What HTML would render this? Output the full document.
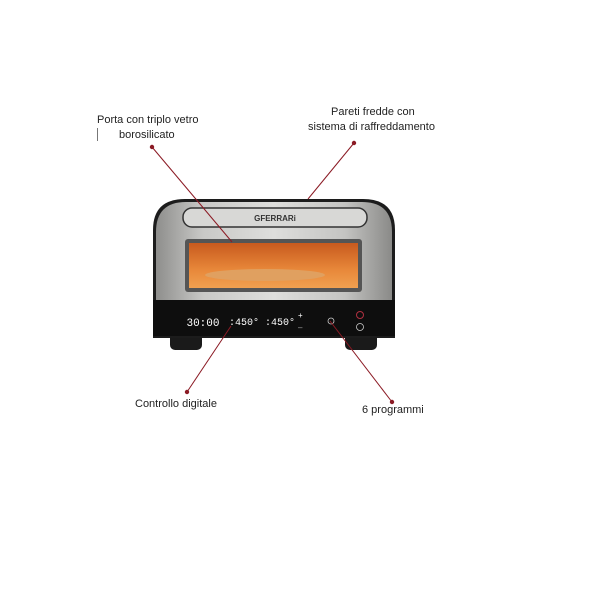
<!DOCTYPE html>
<html><head><style>
body{margin:0;background:#fff;width:600px;height:600px;overflow:hidden;position:relative;font-family:"Liberation Sans",sans-serif;}
.t{position:absolute;font-size:11px;color:#222;white-space:nowrap;}
</style></head><body>
<svg width="600" height="600" style="position:absolute;left:0;top:0">
<defs>
<linearGradient id="s" x1="0" y1="0" x2="1" y2="0">
<stop offset="0" stop-color="#8e8e8c"/><stop offset="0.2" stop-color="#c9c9c7"/><stop offset="0.5" stop-color="#dededc"/><stop offset="0.8" stop-color="#c4c4c2"/><stop offset="1" stop-color="#8a8a88"/></linearGradient>
<linearGradient id="w" x1="0" y1="0" x2="0" y2="1">
<stop offset="0" stop-color="#c85a1e"/><stop offset="0.6" stop-color="#e8883a"/><stop offset="1" stop-color="#f0a050"/></linearGradient>
</defs>
<rect x="170" y="330" width="32" height="20" rx="5" fill="#1a1a1a"/>
<rect x="345" y="330" width="32" height="20" rx="5" fill="#1a1a1a"/>
<path d="M153 230 Q153 199 185 199 L363 199 Q395 199 395 230 L395 338 L153 338 Z" fill="#1c1c1c"/>
<path d="M156 232 Q156 202 186 202 L362 202 Q392 202 392 232 L392 300 L156 300 Z" fill="url(#s)"/>
<rect x="183" y="208" width="184" height="19" rx="9" fill="#d8d8d6" stroke="#333" stroke-width="1.5"/>
<text x="275" y="221" font-family="Liberation Sans" font-size="8" font-weight="bold" fill="#333" text-anchor="middle">GFERRARi</text>
<rect x="185" y="239" width="177" height="53" rx="3" fill="#555"/>
<rect x="189" y="243" width="169" height="45" fill="url(#w)"/>
<ellipse cx="265" cy="275" rx="60" ry="6" fill="#e0a060"/>
<rect x="153" y="300" width="242" height="36" fill="#0e0e0e"/>
<text x="203" y="326" font-family="Liberation Mono" font-size="11" fill="#fff" text-anchor="middle">30:00</text>
<text x="262" y="325" font-family="Liberation Mono" font-size="10" fill="#fff" text-anchor="middle">:450° :450°</text>
<text x="298" y="318" font-size="8" fill="#fff">+</text>
<text x="298" y="330" font-size="8" fill="#aaa">–</text>
<circle cx="331" cy="321" r="3" fill="none" stroke="#ccc" stroke-width="0.8"/>
<circle cx="360" cy="315" r="3.5" fill="none" stroke="#b03040" stroke-width="1"/>
<circle cx="360" cy="327" r="3.5" fill="none" stroke="#ccc" stroke-width="0.8"/>
<g stroke="#8b1a24" stroke-width="1">
<line x1="152" y1="147" x2="232" y2="242"/>
<line x1="354" y1="143" x2="308" y2="199"/>
<line x1="187" y1="392" x2="231" y2="326"/>
<line x1="392" y1="402" x2="330" y2="321"/>
</g>
<g fill="#8b1a24">
<circle cx="152" cy="147" r="2.2"/><circle cx="354" cy="143" r="2.2"/>
<circle cx="187" cy="392" r="2.2"/><circle cx="392" cy="402" r="2.2"/>
</g>
<line x1="97.5" y1="128" x2="97.5" y2="141" stroke="#555" stroke-width="0.8"/>
</svg>
<div class="t" style="left:97px;top:114px">Porta con triplo vetro</div>
<div class="t" style="left:119px;top:129px">borosilicato</div>
<div class="t" style="left:331px;top:106px">Pareti fredde con</div>
<div class="t" style="left:308px;top:121px">sistema di raffreddamento</div>
<div class="t" style="left:135px;top:398px">Controllo digitale</div>
<div class="t" style="left:362px;top:404px">6 programmi</div>
</body></html>
